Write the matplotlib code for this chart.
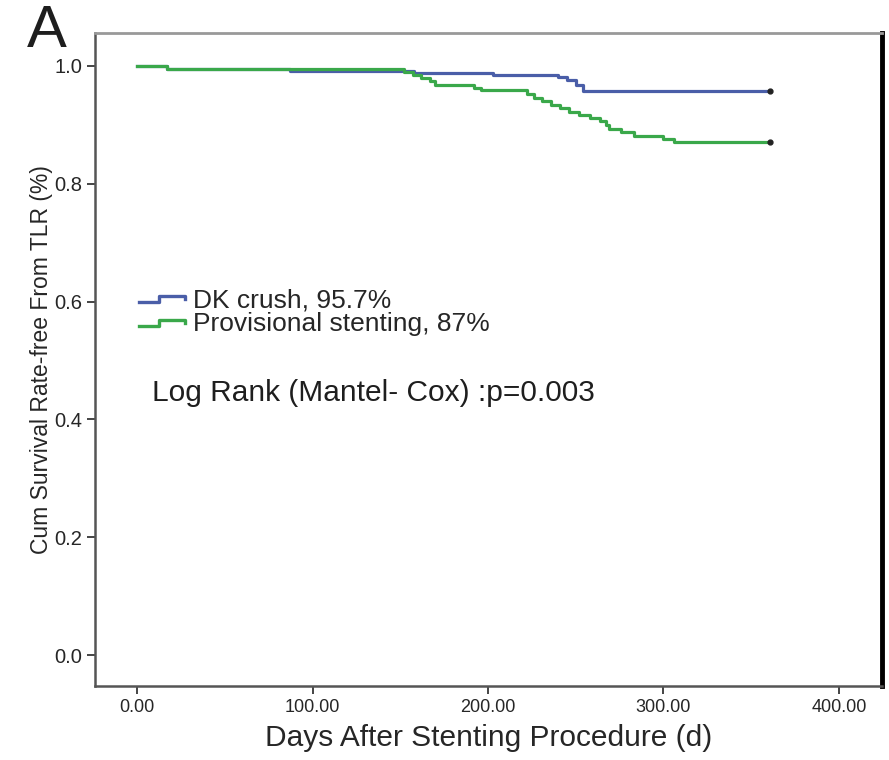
#Kaplan-Meier style curves for TLR-free survival, panel A
import numpy as np
import matplotlib as mpl
import matplotlib.pyplot as plt
from matplotlib import font_manager
from matplotlib.legend_handler import HandlerBase
from matplotlib.lines import Line2D

# event times (days) and survival after each event
dk_times = [0, 17, 87, 158, 203, 240, 245, 250, 254, 361]
dk_surv = [1.0, 0.995, 0.991, 0.988, 0.984, 0.980, 0.975, 0.967, 0.957, 0.957]

prov_times = [0, 17, 152, 157, 162, 167, 170, 192, 196, 222, 226, 231, 236, 241, 246,
              252, 258, 264, 267, 269, 276, 283, 300, 306, 361]
prov_surv = [1.0, 0.995, 0.990, 0.985, 0.979, 0.974, 0.968, 0.963, 0.958, 0.952, 0.946,
             0.940, 0.934, 0.928, 0.922, 0.917, 0.912, 0.907, 0.900, 0.893, 0.887, 0.881,
             0.876, 0.870, 0.870]

labels = ['DK crush, 95.7%', 'Provisional stenting, 87%']
colors = ['#4a5ea8', '#3aa84a']
x_ticks = [0, 100, 200, 300, 400]
y_ticks = [0.0, 0.2, 0.4, 0.6, 0.8, 1.0]

mpl.rc('font', family=['Liberation Sans', 'DejaVu Sans'])
installed = {f.name for f in font_manager.fontManager.ttflist}
narrow = 'Liberation Sans Narrow' if 'Liberation Sans Narrow' in installed else 'Liberation Sans'
text_col = '#262626'


class StepHandler(HandlerBase):
    def create_artists(self, legend, orig_handle, xdescent, ydescent, width, height, fontsize, trans):
        xs = np.array([0, 0.42, 0.42, 0.95, 0.95]) * width - xdescent
        ys = np.array([0.3, 0.3, 0.62, 0.62, 0.45]) * height - ydescent
        line = Line2D(xs, ys, color=orig_handle.get_color(), lw=2.4, transform=trans)
        return [line]


fig = plt.figure(figsize=(8.89, 7.6), dpi=100)
ax = fig.add_axes([0.107, 0.097, 0.885, 0.860])

handles = []
for times, surv, col, lab in zip([dk_times, prov_times], [dk_surv, prov_surv], colors, labels):
    h, = ax.step(times, surv, where='post', color=col, lw=2.3, label=lab)
    ax.plot(times[-1], surv[-1], marker='o', color='#222222', ms=3.5)
    handles.append(h)

ax.set_xlim(-24, 424.5)
ax.set_ylim(-0.0526, 1.056)
ax.set_xticks(x_ticks)
ax.set_xticklabels(['%.2f' % v for v in x_ticks], fontsize=13, family=narrow)
ax.set_yticks(y_ticks)
ax.set_yticklabels(['%.1f' % v for v in y_ticks], fontsize=14.5)
ax.tick_params(direction='out', length=6, width=1.4, color='#444444', labelcolor=text_col, pad=3)

for side in ['left', 'bottom']:
    ax.spines[side].set_color('#555555')
    ax.spines[side].set_linewidth(1.8)
ax.spines['top'].set_color('#999999')
ax.spines['top'].set_linewidth(2)
ax.spines['right'].set_color('black')
ax.spines['right'].set_linewidth(3.5)

ax.set_xlabel('Days After Stenting Procedure (d)', fontsize=21.5, color=text_col, labelpad=6)
ax.set_ylabel('Cum Survival Rate-free From TLR (%)', fontsize=16.5, color=text_col,
              labelpad=1, family=narrow)

ax.legend(handles=handles, labels=labels, loc='upper left', bbox_to_anchor=(0.042, 0.625),
          frameon=False, prop={'size': 19}, handler_map={h: StepHandler() for h in handles},
          handlelength=1.85, handletextpad=0.2, labelspacing=0.0, labelcolor=text_col,
          borderaxespad=0)

ax.text(0.072, 0.436, 'Log Rank (Mantel- Cox) :p=0.003', transform=ax.transAxes,
        fontsize=21.5, color='#1e1e1e', va='baseline')

fig.text(0.030, 0.938, 'A', fontsize=43, color='#1e1e1e')

plt.savefig('out.png', dpi=100)
